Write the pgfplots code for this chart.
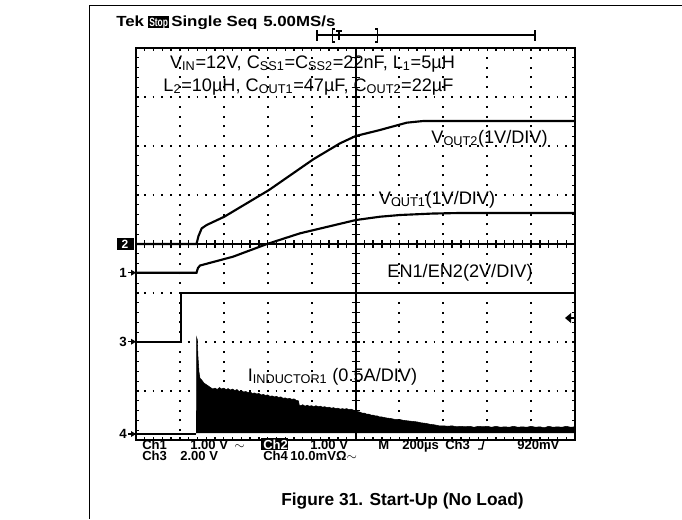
\documentclass[border=0pt]{standalone}
\usepackage{pgfplots}
\pgfplotsset{compat=1.18}
\usepackage{fontspec}
\setmainfont{Liberation Sans}
\newcommand{\ann}{\fontsize{13.6}{16}\selectfont}
\newcommand{\stat}{\fontsize{9.8}{11}\selectfont\bfseries}
\newcommand{\hdr}[1]{\scalebox{1.15}[1]{\fontsize{11}{13}\selectfont\bfseries #1}}
\newcommand{\sub}[1]{\textsubscript{#1}}

% Ch2: V_OUT2, ground at centre line (divisions)
\pgfplotstableread{
x y
0 0
1.378 0
1.424 0.163
1.497 0.320
1.610 0.388
2.011 0.557
3.030 1.102
4.039 1.729
4.647 2.055
5.005 2.204
5.558 2.327
6.166 2.476
6.538 2.510
10 2.510
}\voutb
% Ch1: V_OUT1
\pgfplotstableread{
x y
0 -0.586
1.378 -0.586
1.412 -0.490
1.458 -0.439
2.210 -0.259
2.984 0
3.736 0.218
5.011 0.490
5.558 0.557
6.014 0.592
6.765 0.622
7.380 0.633
10 0.633
}\vouta

\begin{document}
\begin{tikzpicture}[x=0.75pt,y=-0.75pt]
\useasboundingbox (0,0) rectangle (682,519);
\draw[line width=1.3pt] (89,5.5) -- (682,5.5);
\draw[line width=0.9pt] (89.5,5) -- (89.5,519);

\begin{axis}[
  at={(102pt,-330pt)}, anchor=south west,
  scale only axis, width=329.25pt, height=294pt,
  xmin=0, xmax=10, ymin=-4, ymax=4,
  xtick={0,...,10}, ytick={-4,...,4},
  minor x tick num=4, minor y tick num=4,
  xticklabel={\phantom{0}}, yticklabel={\phantom{0}},
  tick align=inside, tick pos=both,
  major tick length=2.6pt, minor tick length=2.6pt,
  every tick/.style={black, line width=1pt},
  axis line style={line width=1.5pt},
  xmajorgrids, ymajorgrids,
  x grid style={black, line width=1.4pt, dash pattern=on 1.4pt off 5.95pt, dash phase=0.7pt},
  y grid style={black, line width=1.4pt, dash pattern=on 1.4pt off 5.185pt, dash phase=0.7pt},
]
\draw[line width=1.5pt] (axis cs:5,-4) -- (axis cs:5,4);
\draw[line width=1.5pt] (axis cs:0,0) -- (axis cs:10,0);

% Ch4: inductor current, switching envelope filled down to its ground
\addplot[fill=black, draw=black, line width=0.4pt] coordinates {
(1.378,-3.86) (1.380,-1.904) (1.395,-1.95) (1.412,-2.30) (1.435,-2.612)
(1.458,-2.741) (1.50,-2.78) (1.55,-2.84) (1.60,-2.87) (1.65,-2.90)
(1.70,-2.93) (1.75,-2.96) (1.80,-2.94) (1.85,-2.97) (1.90,-2.93)
(1.95,-2.96) (2.00,-2.94) (2.05,-2.97) (2.10,-2.95) (2.15,-2.98)
(2.20,-2.96) (2.25,-2.99) (2.30,-2.97) (2.35,-3.01) (2.40,-2.99)
(2.45,-3.02) (2.50,-3.01) (2.55,-3.03) (2.60,-3.02) (2.65,-3.05)
(2.70,-3.04) (2.75,-3.06) (2.80,-3.05) (2.85,-3.08) (2.90,-3.07)
(2.95,-3.09) (3.00,-3.08) (3.05,-3.11) (3.10,-3.10) (3.15,-3.12)
(3.20,-3.11) (3.25,-3.13) (3.30,-3.12) (3.35,-3.15) (3.40,-3.14)
(3.45,-3.16) (3.50,-3.15) (3.55,-3.17) (3.60,-3.16) (3.65,-3.19)
(3.70,-3.20) (3.72,-3.29) (3.75,-3.30) (3.80,-3.28) (3.85,-3.31)
(3.90,-3.29) (3.95,-3.31) (4.00,-3.30) (4.05,-3.32) (4.10,-3.30)
(4.15,-3.32) (4.20,-3.31) (4.25,-3.33) (4.30,-3.32) (4.35,-3.34)
(4.40,-3.33) (4.45,-3.35) (4.50,-3.34) (4.55,-3.36) (4.60,-3.35)
(4.65,-3.37) (4.70,-3.36) (4.75,-3.37) (4.80,-3.36) (4.85,-3.38)
(4.90,-3.37) (4.95,-3.39) (5.00,-3.40) (5.05,-3.42) (5.10,-3.43)
(5.15,-3.45) (5.20,-3.45) (5.25,-3.47) (5.30,-3.47) (5.35,-3.49)
(5.40,-3.49) (5.45,-3.51) (5.50,-3.51) (5.55,-3.53) (5.60,-3.53)
(5.70,-3.55) (5.80,-3.56) (5.90,-3.58) (6.00,-3.58) (6.10,-3.60)
(6.20,-3.61) (6.30,-3.62) (6.40,-3.63) (6.50,-3.65) (6.60,-3.66)
(6.70,-3.68) (6.80,-3.69) (6.90,-3.71) (7.00,-3.71) (7.10,-3.72)
(7.20,-3.71) (7.30,-3.73) (7.40,-3.72) (7.50,-3.73) (7.60,-3.72)
(7.70,-3.74) (7.80,-3.72) (7.90,-3.73) (8.00,-3.72) (8.10,-3.74)
(8.20,-3.72) (8.30,-3.74) (8.40,-3.73) (8.50,-3.74) (8.60,-3.72)
(8.70,-3.74) (8.80,-3.73) (8.90,-3.74) (9.00,-3.72) (9.10,-3.74)
(9.20,-3.73) (9.30,-3.75) (9.40,-3.72) (9.50,-3.74) (9.60,-3.73)
(9.70,-3.74) (9.80,-3.72) (9.90,-3.74) (10.00,-3.73) (10.00,-3.86)
};
\addplot[black, line width=0.8pt] coordinates {(0,-3.878) (1.378,-3.878)};
% Ch3: EN1/EN2
\addplot[black, line width=1.6pt] coordinates {(0,-1.994) (1.025,-1.994) (1.025,-0.994) (10,-0.994)};
\addplot[black, line width=1.6pt] table {\vouta};
\addplot[black, line width=1.6pt] table {\voutb};
\end{axis}

% cross ticks on the centre lines
\foreach \i in {1,...,49} \draw[line width=1pt] (136+\i*8.78,240) -- (136+\i*8.78,248);
\foreach \j in {1,...,39} \draw[line width=1pt] (351.5,48+\j*9.8) -- (359.5,48+\j*9.8);

% header
\node[anchor=base west, inner sep=0] at (116,26) {\hdr{Tek}};
\fill (148,16) rectangle (169,28);
\node[anchor=base west, text=white, inner sep=0] at (149,26) {\scalebox{0.7}[1]{\fontsize{9}{11}\selectfont\bfseries Stop}};
\node[anchor=base west, inner sep=0] at (171,26) {\hdr{Single Seq}};
\node[anchor=base west, inner sep=0] at (263,26) {\hdr{5.00MS/s}};
\draw[line width=0.9pt] (317,35) -- (535,35);
\draw[line width=1pt] (317,30) -- (317,41) (535,30) -- (535,41);
\draw[line width=1.3pt] (335,29) -- (332.5,29) -- (332.5,42) -- (335,42);
\draw[line width=1.3pt] (375,29) -- (377.5,29) -- (377.5,42) -- (375,42);
\draw[line width=1.2pt] (336,31) -- (342,31) (339,31) -- (339,40);

% channel markers
\fill (117,238) rectangle (134,250);
\node[font=\fontsize{9}{11}\selectfont\bfseries, text=white, inner sep=0] at (125,244.5) {2};
\node[anchor=east, font=\fontsize{10}{12}\selectfont\bfseries, inner sep=0] at (127,273) {1};
\node[anchor=east, font=\fontsize{10}{12}\selectfont\bfseries, inner sep=0] at (127,342) {3};
\node[anchor=east, font=\fontsize{10}{12}\selectfont\bfseries, inner sep=0] at (127,434) {4};
\foreach \yy in {272.7,341.7,434} {
  \draw[line width=1pt] (128,\yy) -- (136,\yy);
  \fill (136,\yy) -- (131,\yy-3) -- (131,\yy+3) -- cycle;
}
\fill (565,318) -- (571,313) -- (571,323) -- cycle;
\draw[line width=1.2pt] (570,318) -- (575,318);

% annotations
\node[anchor=base, font=\ann, inner sep=0] at (312.5,68) {V\sub{IN}=12V, C\sub{SS1}=C\sub{SS2}=22nF, L\sub{1}=5µH};
\node[anchor=base, font=\ann, inner sep=0] at (308.5,91) {L\sub{2}=10µH, C\sub{OUT1}=47µF, C\sub{OUT2}=22µF};
\node[anchor=base, font=\ann, inner sep=0] at (489.5,143) {V\sub{OUT2}(1V/DIV)};
\node[anchor=base, font=\ann, inner sep=0] at (437,204) {V\sub{OUT1}(1V/DIV)};
\node[anchor=base, font=\ann, inner sep=0] at (460,277) {EN1/EN2(2V/DIV)};
\node[anchor=base, font=\ann, inner sep=0] at (332.5,381) {I\sub{INDUCTOR1} (0.5A/DIV)};

% status lines
\node[anchor=base west, font=\stat, inner sep=0] at (142,449) {Ch1};
\node[anchor=base west, font=\stat, inner sep=0] at (190,449) {1.00 V};
\node[anchor=base west, font=\stat, inner sep=0] at (234,449) {$\mathbf{\sim}$};
\fill (261,438) rectangle (288,450);
\node[anchor=base west, font=\stat, text=white, inner sep=0] at (263,449) {Ch2};
\node[anchor=base west, font=\stat, inner sep=0] at (310,449) {1.00 V};
\node[anchor=base west, font=\stat, inner sep=0] at (378,449) {M};
\node[anchor=base west, font=\stat, inner sep=0] at (402,449) {200µs};
\node[anchor=base west, font=\stat, inner sep=0] at (445,449) {Ch3};
\draw[line width=1pt] (478,449) -- (482,449) -- (484,440) -- (488,440);
\node[anchor=base west, font=\stat, inner sep=0] at (517,449) {920mV};
\node[anchor=base west, font=\stat, inner sep=0] at (142,460) {Ch3};
\node[anchor=base west, font=\stat, inner sep=0] at (180,460) {2.00 V};
\node[anchor=base west, font=\stat, inner sep=0] at (263,460) {Ch4};
\node[anchor=base west, font=\stat, inner sep=0] at (290,460) {10.0mVΩ$\mathbf{\sim}$};

% caption
\node[anchor=base, font=\fontsize{13}{15}\selectfont\bfseries, inner sep=0] at (402.5,505) {Figure 31. Start-Up (No Load)};
\end{tikzpicture}
\end{document}
